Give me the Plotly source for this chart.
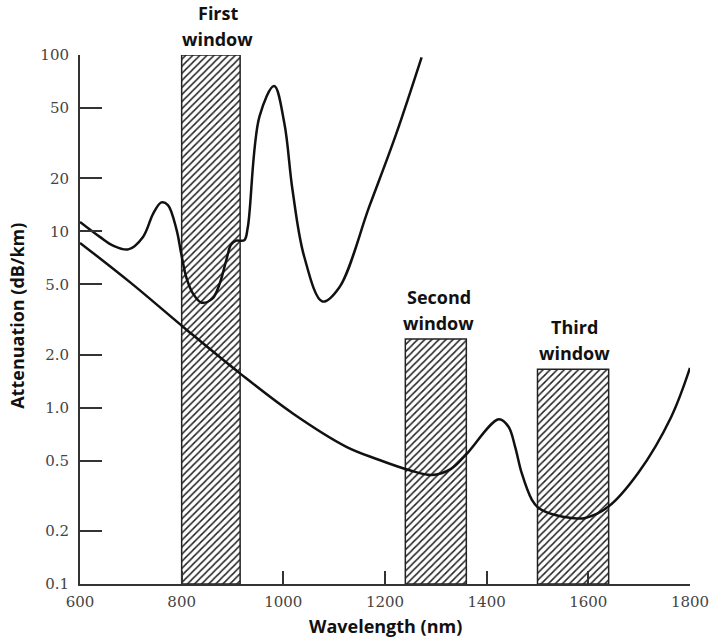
import math
import plotly.graph_objects as go

# Fibre attenuation spectra (wavelength in nm, attenuation in dB/km)
wl_upper = [600, 639, 665, 695, 724, 744, 760, 773, 790, 799, 809, 822, 839,
            861, 875, 888, 897, 907, 923, 930, 953, 982, 1002,
            1018, 1041, 1077, 1110, 1169, 1221, 1272]
att_upper = [11.3, 9.3, 8.3, 7.9, 9.3, 12.6, 14.6, 14.1, 10.2, 7.5, 5.5, 4.45,
             3.94, 4.17, 5.07, 6.9, 8.4, 8.85, 8.9, 10.5, 44.7, 66.7,
             41, 17.2, 7.2, 4.0, 4.8, 13.8, 35, 97]

wl_lower = [600, 700, 810, 914, 1018, 1124, 1185, 1247, 1292, 1330, 1359,
            1424, 1443, 1456, 1469, 1489, 1502, 1535, 1567, 1594, 1639, 1698,
            1763, 1800]
att_lower = [8.6, 5.1, 2.76, 1.57, 0.93, 0.60, 0.51, 0.443, 0.415, 0.45, 0.54,
             0.86, 0.78, 0.60, 0.425, 0.30, 0.27, 0.246, 0.237, 0.237,
             0.274, 0.426, 0.886, 1.68]

# Transmission windows
win_names = ["First", "Second", "Third"]
win_lo = [800, 1240, 1500]
win_hi = [915, 1360, 1640]
win_top = [100, 2.45, 1.65]

# Axis ticks
x_ticks = [600, 800, 1000, 1200, 1400, 1600, 1800]
y_ticks = [0.1, 0.2, 0.5, 1, 2, 5, 10, 20, 50, 100]
y_ticktext = ["0.1", "0.2", "0.5", "1.0", "2.0", "5.0", "10", "20", "50", "100"]

INK = "#111111"
AXIS = "#333333"
LABEL_FONT = dict(family="Open Sans", size=18, color="#111111")
TICK_FONT = dict(family="DejaVu Serif", size=15, color="#444444")
Y_MIN = 0.1

fig = go.Figure()

# hatched window bars
for lo, hi, top in zip(win_lo, win_hi, win_top):
    fig.add_trace(go.Scatter(
        x=[lo, lo, hi, hi, lo],
        y=[Y_MIN, top, top, Y_MIN, Y_MIN],
        mode="lines",
        fill="toself",
        fillcolor="white",
        fillpattern=dict(shape="/", size=5, solidity=0.3,
                         fgcolor="#222222", bgcolor="white", fillmode="replace"),
        line=dict(color="#222222", width=1.5),
        hoverinfo="skip",
        showlegend=False,
    ))

# attenuation curves
for xs, ys in ((wl_upper, att_upper), (wl_lower, att_lower)):
    fig.add_trace(go.Scatter(
        x=xs, y=ys, mode="lines",
        line=dict(color=INK, width=2.5, shape="spline", smoothing=1.0),
        showlegend=False,
    ))

annotations = []
# window captions, two lines each above the bar
x_shift = [7, 3, 1]
for name, lo, hi, top, dx in zip(win_names, win_lo, win_hi, win_top, x_shift):
    xc = (lo + hi) / 2
    for text, dy in ((name, 42), ("window", 16)):
        annotations.append(dict(
            x=xc, y=math.log10(top), xref="x", yref="y",
            text="<b>%s</b>" % text, showarrow=False,
            xanchor="center", yanchor="middle",
            xshift=dx, yshift=dy, font=LABEL_FONT,
        ))

# axis titles
annotations.append(dict(
    x=0.5, y=0, xref="paper", yref="paper", text="<b>Wavelength (nm)</b>",
    showarrow=False, xanchor="center", yanchor="middle", yshift=-42,
    font=LABEL_FONT,
))
annotations.append(dict(
    x=0, y=0.507, xref="paper", yref="paper", text="<b>Attenuation (dB/km)</b>",
    showarrow=False, xanchor="center", yanchor="middle", xshift=-63,
    textangle=-90, font=LABEL_FONT,
))

fig.update_layout(
    width=721, height=638,
    margin=dict(l=80, r=29, t=55, b=54),
    paper_bgcolor="white", plot_bgcolor="white",
    annotations=annotations,
    xaxis=dict(
        range=[600, 1800], tickvals=x_ticks, ticks="inside", ticklen=13,
        tickwidth=1.5, tickcolor=AXIS, showline=True, linewidth=2,
        linecolor=AXIS, showgrid=False, zeroline=False, tickfont=TICK_FONT,
        ticklabelstandoff=3,
    ),
    yaxis=dict(
        type="log", range=[-1, 2], tickvals=y_ticks, ticktext=y_ticktext,
        ticks="inside", ticklen=22, tickwidth=1.5, tickcolor=AXIS,
        showline=True, linewidth=2, linecolor=AXIS, showgrid=False,
        zeroline=False, tickfont=TICK_FONT, ticklabelstandoff=6,
    ),
)

fig.write_html("out.html")
